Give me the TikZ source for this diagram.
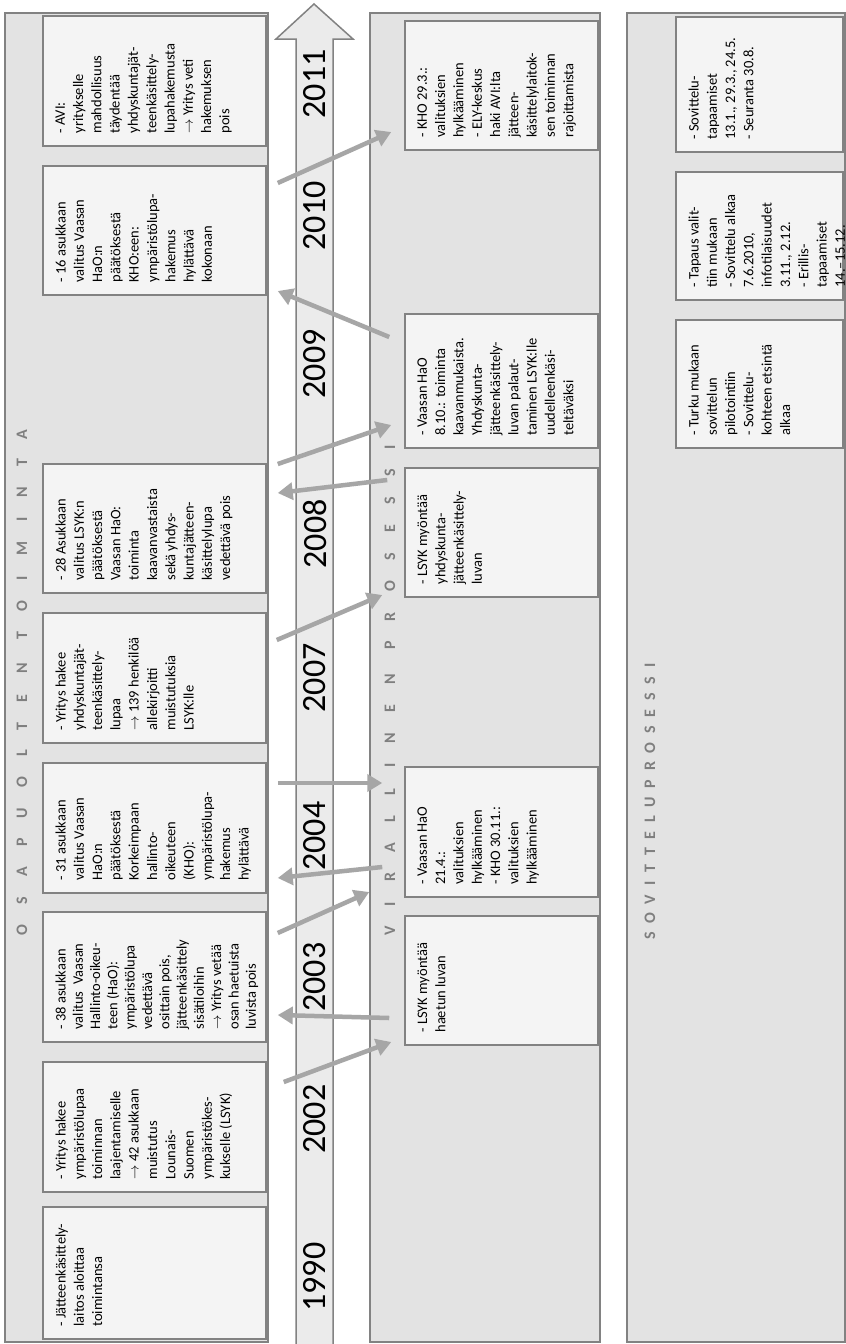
\documentclass[tikz,border=0pt]{standalone}
\usepackage{fontspec}
\setmainfont{Carlito}
\newfontfamily\spacedfont[LetterSpace=127]{Carlito}
\newfontfamily\tightspacedfont[LetterSpace=55]{Carlito}
\usepackage{tikz}
\usetikzlibrary{arrows.meta}
\definecolor{bandgrey}{RGB}{227,227,227}
\definecolor{boxgrey}{RGB}{244,244,244}
\definecolor{linegrey}{RGB}{130,130,130}
\definecolor{arrowgrey}{RGB}{166,166,166}
\definecolor{shaftgrey}{RGB}{235,235,235}
\definecolor{labelgrey}{RGB}{127,127,127}
\newcommand{\boxfont}{\fontsize{14.5}{18.3}\selectfont}
\newcommand{\yearfont}{\fontsize{34}{40}\selectfont}
\newcommand{\labelfont}{\fontsize{16}{19}\selectfont\bfseries}
\tikzstyle{band}=[fill=bandgrey, draw=linegrey, line width=2pt]
\tikzstyle{shaft}=[fill=shaftgrey, draw=linegrey, line width=1.5pt]
\tikzstyle{top box}=[fill=boxgrey, draw=linegrey, line width=1.5pt, shape=rectangle, inner sep=0pt, minimum width=223pt, minimum height=130pt]
\tikzstyle{mid box}=[top box, minimum width=193pt]
\tikzstyle{low box}=[top box, minimum width=167pt]
\tikzstyle{box text}=[rotate=90, anchor=north west, align=left, inner sep=0pt, font=\boxfont]
\tikzstyle{year}=[rotate=90, inner sep=0pt, font=\yearfont]
\tikzstyle{band label}=[rotate=90, anchor=west, inner sep=0pt, text=labelgrey]
\tikzstyle{grey arrow}=[-{Triangle[length=15pt,width=17pt]}, draw=arrowgrey, line width=4.5pt]
\pgfdeclarelayer{nodelayer}
\pgfdeclarelayer{edgelayer}
\pgfsetlayers{nodelayer,edgelayer,main}

\begin{document}
\begin{tikzpicture}[x=1pt, y=-1pt]
	\useasboundingbox (0,0) rectangle (846,1344);
	\begin{pgfonlayer}{nodelayer}
		\fill [white] (0,0) rectangle (846,1344);
		% bands and time axis
		\draw [style=band] (5,13) rectangle (268,1342);
		\draw [style=band] (370,13) rectangle (600,1342);
		\draw [style=band] (627,13) rectangle (845,1342);
		\draw [style=shaft] (296,1345) -- (296,39) -- (276,39) -- (314,4) -- (353,39) -- (333,39) -- (333,1345);

		\node [style=band label] (osalabel) at (22,936) {\spacedfont\labelfont OSAPUOLTEN TOIMINTA};
		\node [style=band label] (virlabel) at (390,936) {\spacedfont\labelfont VIRALLINEN PROSESSI};
		\node [style=band label] (sovlabel) at (650,940) {\tightspacedfont\labelfont SOVITTELUPROSESSI};

		\node [style=year] (y2011) at (315,84) {2011};
		\node [style=year] (y2010) at (315,216) {2010};
		\node [style=year] (y2009) at (315,364) {2009};
		\node [style=year] (y2008) at (315,534) {2008};
		\node [style=year] (y2007) at (315,678) {2007};
		\node [style=year] (y2004) at (315,836) {2004};
		\node [style=year] (y2003) at (315,977) {2003};
		\node [style=year] (y2002) at (315,1119) {2002};
		\node [style=year] (y1990) at (315,1277) {1990};

		% osapuolten toiminta
		\node [style=top box] (a8) at (154.5,81) {};
		\node [style=top box, minimum height=129pt] (a7) at (154.5,230.5) {};
		\node [style=top box, minimum height=129pt] (a6) at (154.5,528.5) {};
		\node [style=top box] (a5) at (154.5,678) {};
		\node [style=top box] (a4) at (154.5,828) {};
		\node [style=top box] (a3) at (154.5,977) {};
		\node [style=top box] (a2) at (154.5,1127) {};
		\node [style=top box, minimum height=132pt] (a1) at (154.5,1273) {};

		\node [style=box text] (a8t) at ([shift={(13,-13)}]a8.south west) {- AVI:\\yritykselle\\mahdollisuus\\täydentää\\yhdyskuntajät-\\teenkäsittely-\\lupahakemusta\\$\rightarrow$ Yritys veti\\hakemuksen\\pois};
		\node [style=box text] (a7t) at ([shift={(13,-13)}]a7.south west) {- 16 asukkaan\\valitus Vaasan\\HaO:n\\päätöksestä\\KHO:een:\\ympäristölupa-\\hakemus\\hylättävä\\kokonaan};
		\node [style=box text] (a6t) at ([shift={(13,-13)}]a6.south west) {- 28 Asukkaan\\valitus LSYK:n\\päätöksestä\\Vaasan HaO:\\toiminta\\kaavanvastaista\\sekä yhdys-\\kuntajätteen-\\käsittelylupa\\vedettävä pois};
		\node [style=box text] (a5t) at ([shift={(13,-13)}]a5.south west) {- Yritys hakee\\yhdyskuntajät-\\teenkäsittely-\\lupaa\\$\rightarrow$ 139 henkilöä\\allekirjoitti\\muistutuksia\\LSYK:lle};
		\node [style=box text] (a4t) at ([shift={(13,-13)}]a4.south west) {- 31 asukkaan\\valitus Vaasan\\HaO:n\\päätöksestä\\Korkeimpaan\\hallinto-\\oikeuteen\\(KHO):\\ympäristölupa-\\hakemus\\hylättävä};
		\node [style=box text, font=\fontsize{14.5}{17.3}\selectfont] (a3t) at ([shift={(13,-13)}]a3.south west) {- 38 asukkaan\\valitus\ \ Vaasan\\Hallinto-oikeu-\\teen (HaO):\\ympäristölupa\\vedettävä\\osittain pois,\\jätteenkäsittely\\sisätiloihin\\$\rightarrow$ Yritys vetää\\osan haetuista\\luvista pois};
		\node [style=box text] (a2t) at ([shift={(13,-13)}]a2.south west) {- Yritys hakee\\ympäristölupaa\\toiminnan\\laajentamiselle\\$\rightarrow$ 42 asukkaan\\muistutus\\Lounais-\\Suomen\\ympäristökes-\\kukselle (LSYK)};
		\node [style=box text] (a1t) at ([shift={(13,-13)}]a1.south west) {- Jätteenkäsittely-\\laitos aloittaa\\toimintansa};

		% virallinen prosessi
		\node [style=mid box, minimum height=129pt] (b1) at (501.5,85.5) {};
		\node [style=mid box, minimum height=134pt] (b2) at (501.5,381) {};
		\node [style=mid box, minimum height=129pt] (b3) at (501.5,532.5) {};
		\node [style=mid box] (b4) at (501.5,832) {};
		\node [style=mid box, minimum height=129pt] (b5) at (501.5,980.5) {};

		\node [style=box text] (b1t) at ([shift={(13,-13)}]b1.south west) {- KHO 29.3.:\\valituksien\\hylkääminen\\- ELY-keskus\\haki AVI:lta\\jätteen-\\käsittelylaitok-\\sen toiminnan\\rajoittamista};
		\node [style=box text] (b2t) at ([shift={(13,-13)}]b2.south west) {- Vaasan HaO\\8.10.: toiminta\\kaavanmukaista.\\Yhdyskunta-\\jätteenkäsittely-\\luvan palaut-\\taminen LSYK:lle\\uudelleenkäsi-\\teltäväksi};
		\node [style=box text] (b3t) at ([shift={(13,-13)}]b3.south west) {- LSYK myöntää\\yhdyskunta-\\jätteenkäsittely-\\luvan};
		\node [style=box text] (b4t) at ([shift={(13,-13)}]b4.south west) {- Vaasan HaO\\21.4.:\\valituksien\\hylkääminen\\- KHO 30.11.:\\valituksien\\hylkääminen};
		\node [style=box text] (b5t) at ([shift={(13,-13)}]b5.south west) {- LSYK myöntää\\haetun luvan};

		% sovitteluprosessi
		\node [style=low box, minimum height=135pt] (c1) at (759.5,84.5) {};
		\node [style=low box, minimum height=128pt] (c2) at (759.5,236) {};
		\node [style=low box, minimum height=128pt] (c3) at (759.5,384) {};

		\node [style=box text] (c1t) at ([shift={(13,-13)}]c1.south west) {- Sovittelu-\\tapaamiset\\13.1., 29.3., 24.5.\\- Seuranta 30.8.};
		\node [style=box text] (c2t) at ([shift={(13,-13)}]c2.south west) {- Tapaus valit-\\tiin mukaan\\- Sovittelu alkaa\\7.6.2010,\\infotilaisuudet\\3.11., 2.12.\\- Erillis-\\tapaamiset\\14.–15.12.};
		\node [style=box text] (c3t) at ([shift={(13,-13)}]c3.south west) {- Turku mukaan\\sovittelun\\pilotointiin\\- Sovittelu-\\kohteen etsintä\\alkaa};
	\end{pgfonlayer}
	\begin{pgfonlayer}{edgelayer}
		\draw [style=grey arrow] ([shift={(11,-47.5)}]a7.east) to ([shift={(-13,46.5)}]b1.west);
		\draw [style=grey arrow] ([shift={(-15,-44)}]b2.west) to ([shift={(11,60.5)}]a7.east);
		\draw [style=grey arrow] ([shift={(11,-64.5)}]a6.east) to ([shift={(-13,44)}]b2.west);
		\draw [style=grey arrow] ([shift={(-17,-52.5)}]b3.west) to ([shift={(11,-35.5)}]a6.east);
		\draw [style=grey arrow] ([shift={(10,-38)}]a5.east) to ([shift={(-22,62.5)}]b3.west);
		\draw [style=grey arrow] ([shift={(11,-45)}]a4.east) to ([shift={(-22,-49)}]b4.west);
		\draw [style=grey arrow] ([shift={(-22,35)}]b4.west) to ([shift={(11,50)}]a4.east);
		\draw [style=grey arrow] ([shift={(11,-44)}]a3.east) to ([shift={(-35,60)}]b4.west);
		\draw [style=grey arrow] ([shift={(-15,37.5)}]b5.west) to ([shift={(11,38)}]a3.east);
		\draw [style=grey arrow] ([shift={(17,-45)}]a2.east) to ([shift={(-13,61.5)}]b5.west);
	\end{pgfonlayer}
\end{tikzpicture}
\end{document}
